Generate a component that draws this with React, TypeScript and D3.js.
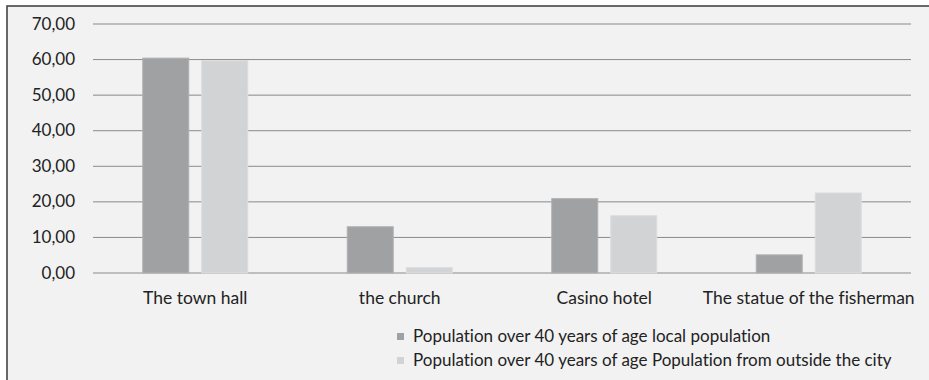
import React from "react";
import * as d3 from "d3";

const categories = ["The town hall", "the church", "Casino hotel", "The statue of the fisherman"];
const seriesNames = [
  "Population over 40 years of age local population",
  "Population over 40 years of age Population from outside the city",
];
const localValues = [60.4, 13.0, 20.9, 5.1];
const outsideValues = [59.7, 1.5, 16.1, 22.5];
const yTicks = [0, 10, 20, 30, 40, 50, 60, 70];
const colors = ["#a0a1a2", "#d2d3d4"];

const W = 929;
const H = 380;
const plotLeft = 93;
const plotRight = 911;
const plotTop = 24;
const plotBottom = 273;
const font = "Lato, 'Open Sans', sans-serif";

export default function App() {
  const x0 = d3.scaleBand<string>().domain(categories).range([plotLeft, plotRight]).paddingInner(0).paddingOuter(0);
  const y = d3.scaleLinear().domain([0, 70]).range([plotBottom, plotTop]);
  const barW = 46;
  const gap = 13;
  const series = [localValues, outsideValues];
  const fmt = (v: number) => v.toFixed(2).replace(".", ",");
  const txtStyle = { fontVariantLigatures: "none" as const };

  return (
    <svg width={W} height={H} style={{ position: "absolute", left: 0, top: 0, background: "#fff" }}>
      <rect x={7} y={6} width={W + 10} height={H + 10} fill="#f2f2f2" stroke="#3a3a3a" strokeWidth={1.5} />
      {yTicks.map((t) => (
        <g key={t}>
          <line x1={plotLeft} x2={plotRight} y1={y(t)} y2={y(t)} stroke="#8a8a8a" strokeWidth={1} />
          <text x={75} y={y(t) + 5.5} textAnchor="end" fontFamily={font} fontSize={17} fill="#222" style={txtStyle}>
            {fmt(t)}
          </text>
        </g>
      ))}
      {categories.map((c, i) => {
        const cx = (x0(c) as number) + x0.bandwidth() / 2;
        return (
          <g key={c}>
            {series.map((vals, s) => {
              const bx = s === 0 ? cx - gap / 2 - barW : cx + gap / 2;
              return (
                <rect
                  key={s}
                  x={bx}
                  y={y(vals[i])}
                  width={barW}
                  height={plotBottom - y(vals[i])}
                  fill={colors[s]}
                  stroke={s === 0 ? "#b0b1b2" : "#dcdddd"}
                  strokeWidth={1}
                />
              );
            })}
            <text x={cx} y={304} textAnchor="middle" fontFamily={font} fontSize={17.5} fill="#222" style={txtStyle}>
              {c}
            </text>
          </g>
        );
      })}
      {seriesNames.map((n, s) => (
        <g key={n}>
          <rect x={397} y={333 + s * 24} width={7} height={7} fill={colors[s]} />
          <text x={413} y={342 + s * 24} fontFamily={font} fontSize={17} fill="#222" style={txtStyle}>
            {n}
          </text>
        </g>
      ))}
    </svg>
  );
}
